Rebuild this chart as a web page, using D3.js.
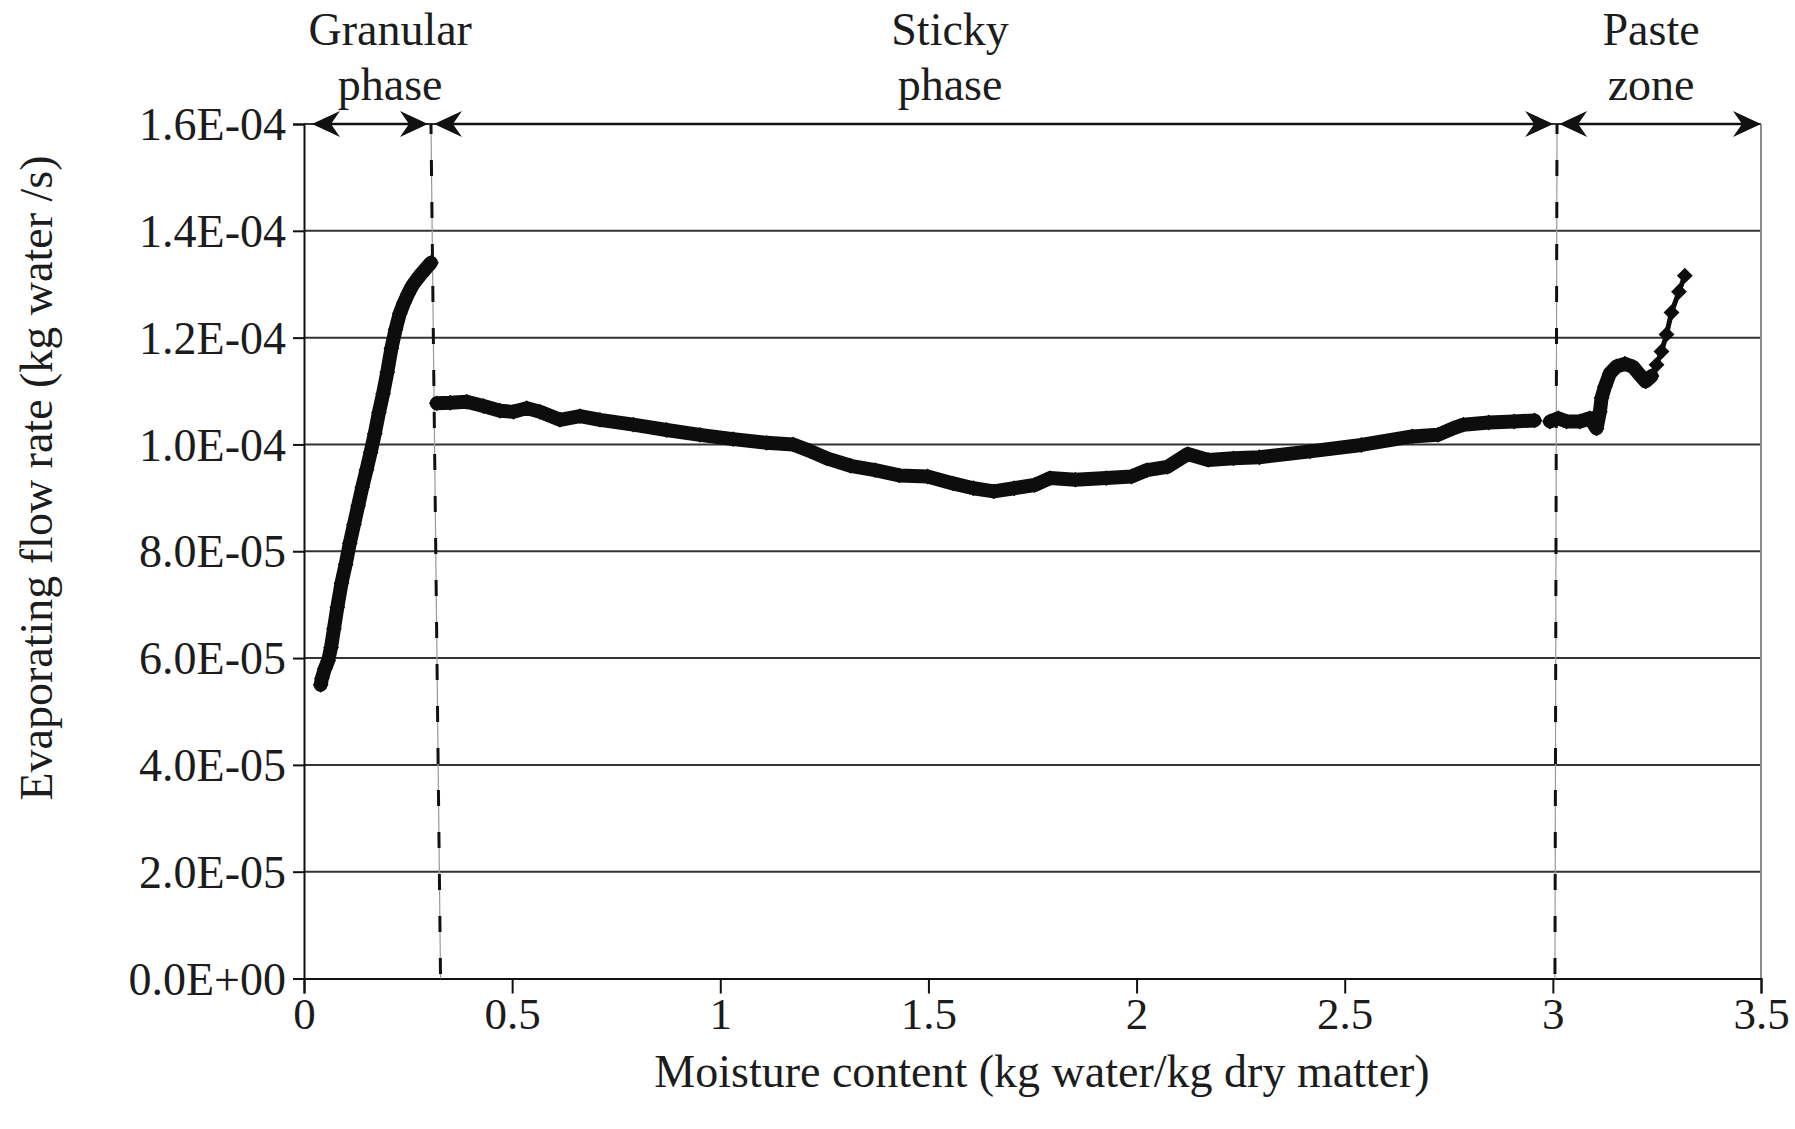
<!DOCTYPE html>
<html>
<head>
<meta charset="utf-8">
<script src="https://cdn.jsdelivr.net/npm/d3@7"></script>
<style>
  body { margin: 0; background: #fff; }
  svg { display: block; }
  text { font-family: "Liberation Serif", "Times New Roman", serif; fill: #1c1c1c; }
</style>
</head>
<body>
<svg id="chart" width="1795" height="1129"></svg>
<script>
// Drying curve: evaporating flow rate (in 1e-5 kg water/s) versus moisture content (kg water/kg dry matter)

// Granular phase
const granularMoisture = [0.040, 0.043, 0.050, 0.058, 0.065, 0.072, 0.080, 0.090, 0.100, 0.110,
  0.120, 0.130, 0.140, 0.150, 0.160, 0.170, 0.180, 0.190, 0.200, 0.210,
  0.220, 0.230, 0.240, 0.250, 0.260, 0.270, 0.280, 0.290, 0.300, 0.305];
const granularRate = [5.50, 5.62, 5.80, 5.95, 6.20, 6.55, 6.95, 7.40, 7.75, 8.15,
  8.50, 8.85, 9.20, 9.52, 9.85, 10.20, 10.60, 10.95, 11.35, 11.80,
  12.15, 12.45, 12.65, 12.82, 12.97, 13.08, 13.18, 13.27, 13.36, 13.40];

// Sticky phase
const stickyMoisture = [0.319, 0.351, 0.391, 0.431, 0.471, 0.503, 0.535, 0.567, 0.615, 0.663,
  0.711, 0.791, 0.871, 0.951, 1.031, 1.111, 1.175, 1.215, 1.256, 1.313,
  1.372, 1.430, 1.498, 1.559, 1.608, 1.657, 1.706, 1.755, 1.792, 1.853,
  1.927, 1.988, 2.025, 2.074, 2.123, 2.172, 2.233, 2.295, 2.417, 2.540,
  2.662, 2.724, 2.760, 2.785, 2.846, 2.907, 2.956];
const stickyRate = [10.77, 10.78, 10.80, 10.72, 10.63, 10.61, 10.68, 10.61, 10.46, 10.53,
  10.46, 10.37, 10.27, 10.18, 10.10, 10.03, 10.00, 9.88, 9.74, 9.60,
  9.52, 9.42, 9.40, 9.27, 9.18, 9.12, 9.18, 9.24, 9.37, 9.34,
  9.37, 9.40, 9.52, 9.58, 9.82, 9.71, 9.74, 9.76, 9.87, 9.99,
  10.15, 10.18, 10.30, 10.37, 10.41, 10.43, 10.45];

// Paste zone (dense part, then the sparser tail)
const pasteMoisture = [2.993, 3.013, 3.033, 3.065, 3.089, 3.105, 3.113, 3.117, 3.125, 3.137,
  3.153, 3.173, 3.193, 3.209, 3.223, 3.237];
const pasteRate = [10.43, 10.49, 10.43, 10.43, 10.49, 10.30, 10.61, 10.87, 11.08, 11.33,
  11.46, 11.51, 11.45, 11.30, 11.18, 11.28];
const tailMoisture = [3.249, 3.261, 3.273, 3.285, 3.303, 3.317];
const tailRate = [11.49, 11.74, 12.06, 12.47, 12.86, 13.16];

// Axes
const xTicks = [0, 0.5, 1, 1.5, 2, 2.5, 3, 3.5];
const xTickLabels = ["0", "0.5", "1", "1.5", "2", "2.5", "3", "3.5"];
const yTicks = [0, 2, 4, 6, 8, 10, 12, 14, 16];
const yTickLabels = ["0.0E+00", "2.0E-05", "4.0E-05", "6.0E-05", "8.0E-05",
  "1.0E-04", "1.2E-04", "1.4E-04", "1.6E-04"];

// Phase annotations
const phaseNames = [["Granular", "phase"], ["Sticky", "phase"], ["Paste", "zone"]];
const phaseLabelX = [0.207, 1.552, 3.236];
const phaseBounds = [0, 0.305, 3.008, 3.5];
const boundaryTop = [0.305, 3.010];
const boundaryBottom = [0.328, 3.005];

const xTitle = "Moisture content (kg water/kg dry matter)";
const yTitle = "Evaporating flow rate (kg water /s)";

const svg = d3.select("#chart");
const x = d3.scaleLinear().domain([0, 3.5]).range([304, 1761]);
const y = d3.scaleLinear().domain([0, 16]).range([978.5, 124]);

// Horizontal gridlines
svg.append("g").selectAll("line").data(yTicks.filter(d => d > 0)).join("line")
  .attr("x1", x(0)).attr("x2", x(3.5))
  .attr("y1", d => y(d)).attr("y2", d => y(d))
  .attr("stroke", "#333").attr("stroke-width", 2);

// Right frame edge
svg.append("line")
  .attr("x1", x(3.5)).attr("x2", x(3.5)).attr("y1", y(16)).attr("y2", y(0))
  .attr("stroke", "#8a8a8a").attr("stroke-width", 2);

// Y axis
const yAxis = svg.append("g").attr("transform", `translate(${x(0)},0)`)
  .call(d3.axisLeft(y).tickValues(yTicks).tickSize(11).tickPadding(7)
    .tickFormat((d, i) => yTickLabels[i]));
yAxis.select(".domain").attr("stroke", "#111").attr("stroke-width", 2);
yAxis.selectAll(".tick line").attr("stroke", "#111").attr("stroke-width", 2);
yAxis.selectAll(".tick text").attr("font-size", 46).attr("fill", "#1c1c1c")
  .attr("font-family", "Liberation Serif, serif").attr("dy", "0.34em");

// X axis
const xAxis = svg.append("g").attr("transform", `translate(0,${y(0)})`)
  .call(d3.axisBottom(x).tickValues(xTicks).tickSize(15).tickPadding(35)
    .tickFormat((d, i) => xTickLabels[i]));
xAxis.select(".domain").attr("stroke", "#111").attr("stroke-width", 2);
xAxis.selectAll(".tick line").attr("stroke", "#111").attr("stroke-width", 2);
xAxis.selectAll(".tick text").attr("font-size", 45).attr("fill", "#1c1c1c")
  .attr("font-family", "Liberation Serif, serif").attr("dy", "0em");

// Axis titles
svg.append("text").attr("x", 1042).attr("y", 1087)
  .attr("text-anchor", "middle").attr("font-size", 46).text(xTitle);
svg.append("text").attr("transform", "translate(52,478) rotate(-90)")
  .attr("text-anchor", "middle").attr("font-size", 46).text(yTitle);

// Phase boundaries (dash-dot style)
const bounds = boundaryTop.map((t, i) => ({ top: t, bottom: boundaryBottom[i] }));
svg.append("g").selectAll("line").data(bounds).join("line")
  .attr("x1", d => x(d.top)).attr("y1", y(16))
  .attr("x2", d => x(d.bottom)).attr("y2", y(0))
  .attr("stroke", "#9a9a9a").attr("stroke-width", 1.2);
svg.append("g").selectAll("line").data(bounds).join("line")
  .attr("x1", d => x(d.top)).attr("y1", y(16))
  .attr("x2", d => x(d.bottom)).attr("y2", y(0))
  .attr("stroke", "#111").attr("stroke-width", 3)
  .attr("stroke-dasharray", "16 26").attr("stroke-dashoffset", 6);

// Phase arrows with stealth heads
function head(tx, ty, dir) {
  return `M${tx},${ty}L${tx - dir * 28},${ty - 13}L${tx - dir * 19},${ty}L${tx - dir * 28},${ty + 13}Z`;
}
const arrows = phaseNames.map((n, i) => ({
  a: x(phaseBounds[i]) + (i === 0 ? 8 : 3),
  b: x(phaseBounds[i + 1]) - (i === 2 ? 0 : 3)
}));
const ag = svg.append("g");
ag.selectAll("line").data(arrows).join("line")
  .attr("x1", d => d.a + 10).attr("x2", d => d.b - 10)
  .attr("y1", y(16)).attr("y2", y(16))
  .attr("stroke", "#111").attr("stroke-width", 2.5);
ag.selectAll("path.l").data(arrows).join("path").attr("class", "l")
  .attr("d", d => head(d.a, y(16), -1)).attr("fill", "#111");
ag.selectAll("path.r").data(arrows).join("path").attr("class", "r")
  .attr("d", d => head(d.b, y(16), 1)).attr("fill", "#111");

// Phase labels
const lg = svg.append("g");
phaseNames.forEach((lines, i) => {
  lines.forEach((s, j) => {
    lg.append("text").attr("x", x(phaseLabelX[i])).attr("y", 45 + j * 55)
      .attr("text-anchor", "middle").attr("font-size", 46).text(s);
  });
});

// Data series
const toPts = (mx, r) => mx.map((m, i) => ({ m, r: r[i] }));
const granular = toPts(granularMoisture, granularRate);
const sticky = toPts(stickyMoisture, stickyRate);
const paste = toPts(pasteMoisture, pasteRate);
const tail = toPts(tailMoisture, tailRate);

const line = d3.line().x(d => x(d.m)).y(d => y(d.r)).curve(d3.curveLinear);
const dg = svg.append("g");
[granular, sticky, paste].forEach(seg => {
  dg.append("path").attr("d", line(seg)).attr("fill", "none")
    .attr("stroke", "#0d0d0d").attr("stroke-width", 14)
    .attr("stroke-linejoin", "round").attr("stroke-linecap", "round");
});
dg.append("path").attr("d", line([paste[paste.length - 1], ...tail])).attr("fill", "none")
  .attr("stroke", "#0d0d0d").attr("stroke-width", 5);

const diamond = d3.symbol().type(d3.symbolDiamond2).size(160);
dg.selectAll("path.pt").data([...granular, ...sticky, ...paste, ...tail]).join("path")
  .attr("class", "pt").attr("d", diamond)
  .attr("transform", d => `translate(${x(d.m)},${y(d.r)})`)
  .attr("fill", "#0d0d0d");
</script>
</body>
</html>
